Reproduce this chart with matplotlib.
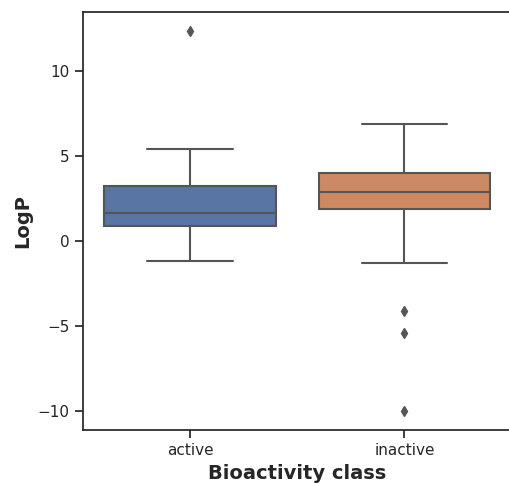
import matplotlib
matplotlib.use("Agg")
import matplotlib.pyplot as plt
import seaborn as sns

# Box statistics
classes = ["active", "inactive"]
q1 = [0.88, 1.88]
median = [1.65, 2.88]
q3 = [3.24, 4.00]
whisker_low = [-1.18, -1.29]
whisker_high = [5.41, 6.88]
outliers = [[12.35], [-4.12, -5.41, -10.0]]

sns.set_theme(style="ticks")

line_gray = "#555555"
palette = [sns.desaturate(c, 0.75) for c in sns.color_palette("deep", 2)]

stats = []
for i, name in enumerate(classes):
    stats.append({
        "label": name,
        "q1": q1[i],
        "med": median[i],
        "q3": q3[i],
        "whislo": whisker_low[i],
        "whishi": whisker_high[i],
        "fliers": outliers[i],
    })

fig = plt.figure(figsize=(5.09, 4.83), dpi=100)
ax = fig.add_axes([83 / 509, 53 / 483, 428.5 / 509, 418 / 483])

bp = ax.bxp(
    stats,
    positions=range(len(classes)),
    widths=0.8,
    patch_artist=True,
    boxprops=dict(edgecolor=line_gray, linewidth=1.5),
    medianprops=dict(color=line_gray, linewidth=1.5),
    whiskerprops=dict(color=line_gray, linewidth=1.5),
    capprops=dict(color=line_gray, linewidth=1.5),
    flierprops=dict(marker="d", markerfacecolor=line_gray, markeredgecolor=line_gray,
                    markersize=5, linestyle="none"),
)
for patch, col in zip(bp["boxes"], palette):
    patch.set_facecolor(col)

ax.set_xlim(-0.5, len(classes) - 0.5)
ax.set_xticks(range(len(classes)))
ax.set_xticklabels(classes)
ax.set_yticks([-10, -5, 0, 5, 10])

ax.set_xlabel("Bioactivity class", fontsize=14, fontweight="bold")
ax.set_ylabel("LogP", fontsize=14, fontweight="bold")

fig.savefig("out.png", dpi=100)
